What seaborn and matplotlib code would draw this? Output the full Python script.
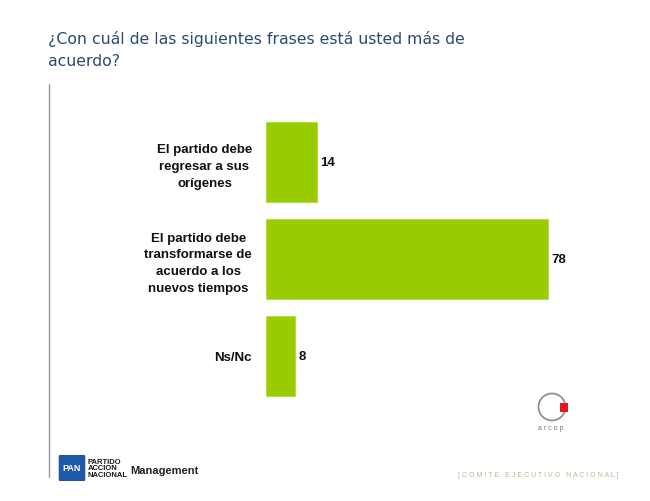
import matplotlib
matplotlib.use("Agg")
import matplotlib.pyplot as plt
import seaborn as sns
import pandas as pd
from matplotlib.patches import Ellipse, Rectangle, FancyBboxPatch

categories = ["El partido debe\nregresar a sus\norígenes",
              "El partido debe\ntransformarse de\nacuerdo a los\nnuevos tiempos",
              "Ns/Nc"]
values = [14, 78, 8]
title = "¿Con cuál de las siguientes frases está usted más de\nacuerdo?"

df = pd.DataFrame({"cat": categories, "val": values})

sns.set_theme(style="white")
plt.rcParams["font.family"] = ["Liberation Sans", "DejaVu Sans"]

W, H = 650, 502
fig = plt.figure(figsize=(6.5, 5.02), dpi=100)

def fx(px):
    return px / W

def fy(py):
    return 1 - py / H

# axes: left 266px, width 361.5px (0..100), top 114.5, bottom 405.5
ax = fig.add_axes([fx(266), fy(405.5), 361.5 / W, (405.5 - 114.5) / H])
sns.barplot(data=df, x="val", y="cat", ax=ax, color="#99cc00", width=0.825,
            saturation=1, edgecolor="#b5dc4a", linewidth=0.8)
ax.set_xlim(0, 100)
ax.set_xlabel("")
ax.set_ylabel("")
ax.set_xticks([])
for s in ax.spines.values():
    s.set_visible(False)
ax.tick_params(axis="y", length=0, pad=10)
for lab in ax.get_yticklabels():
    lab.set_fontsize(9.5)
    lab.set_fontweight("bold")
    lab.set_multialignment("center")
    lab.set_linespacing(1.55)
    lab.set_color("#111111")
for i, v in enumerate(values):
    ax.text(v + 0.9, i, str(v), va="center", ha="left", fontsize=9.5,
            fontweight="bold", color="#111111")

# title
fig.text(fx(48), fy(31), title, ha="left", va="top", fontsize=11.3,
         color="#2b4a6e", family=["DejaVu Sans"], linespacing=1.6)

# vertical rule
fig.add_artist(plt.Line2D([fx(49), fx(49)], [fy(85), fy(478)], color="#999999",
                          lw=1, transform=fig.transFigure))

# arcop logo
fig.add_artist(Ellipse((fx(552), fy(408)), 27 / W, 27 / H, transform=fig.transFigure,
                       fill=False, edgecolor="#888888", lw=1.2))
fig.add_artist(Rectangle((fx(560), fy(413)), 8 / W, 9 / H, transform=fig.transFigure,
                         facecolor="#e8141b", edgecolor="none"))
fig.text(fx(551), fy(429), "a r c o p", ha="center", va="center", fontsize=5,
         color="#777777")

# PAN logo
fig.add_artist(FancyBboxPatch((fx(60), fy(481)), 24 / W, 24 / H,
                              boxstyle="round,pad=0.002", transform=fig.transFigure,
                              facecolor="#1d5aa8", edgecolor="none"))
fig.text(fx(72), fy(469), "PAN", ha="center", va="center", fontsize=6.5,
         fontweight="bold", color="white")
fig.text(fx(88), fy(469), "PARTIDO\nACCION\nNACIONAL", ha="left", va="center",
         fontsize=5.5, fontweight="bold", color="#1a1a1a", linespacing=0.95)
fig.text(fx(130), fy(471), "Management", ha="left", va="center", fontsize=8,
         fontweight="bold", color="#222222")
fig.text(fx(458), fy(476), "[ C O M I T E   E J E C U T I V O   N A C I O N A L ]",
         ha="left", va="center", fontsize=5, color="#c8b48c")

fig.savefig("out.png", dpi=100)
